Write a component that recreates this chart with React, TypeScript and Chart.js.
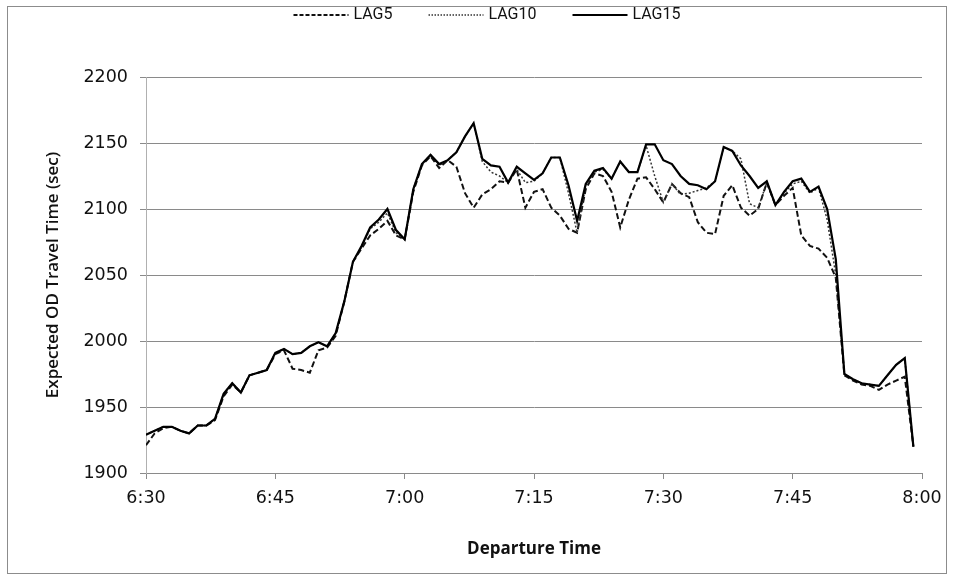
import React, { useEffect, useRef } from "react";
import { Chart, registerables } from "chart.js";

Chart.register(...registerables);

// one sample per minute, starting at 6:30
const startHour = 6;
const startMinute = 30;
const xTickStep = 15;
const xMax = 90;

const seriesNames = ["LAG5", "LAG10", "LAG15"];

const lag5 = [
  1921, 1930, 1934, 1935, 1932, 1930, 1936, 1936, 1940, 1958,
  1967, 1961, 1974, 1976, 1978, 1990, 1993, 1979, 1978, 1976,
  1993, 1995, 2004, 2030, 2060, 2070, 2080, 2085, 2091, 2080,
  2077, 2113, 2133, 2140, 2131, 2137, 2132, 2112, 2101, 2111,
  2115, 2121, 2120, 2130, 2101, 2113, 2115, 2101, 2095, 2085,
  2082, 2115, 2127, 2125, 2113, 2086, 2107, 2123, 2124, 2115,
  2105, 2119, 2112, 2109, 2090, 2082, 2081, 2110, 2118, 2101,
  2095, 2100, 2120, 2103, 2110, 2116, 2080, 2072, 2070, 2063,
  2048, 1974, 1970, 1967, 1966, 1963, 1967, 1970, 1973, 1920,
];

const lag10 = [
  1929, 1932, 1935, 1935, 1932, 1930, 1936, 1936, 1941, 1960,
  1968, 1961, 1974, 1976, 1978, 1991, 1994, 1990, 1991, 1996,
  1999, 1996, 2006, 2030, 2060, 2071, 2085, 2090, 2097, 2082,
  2077, 2115, 2134, 2141, 2133, 2137, 2143, 2155, 2165, 2136,
  2128, 2125, 2120, 2130, 2120, 2121, 2127, 2139, 2139, 2112,
  2082, 2118, 2128, 2130, 2123, 2136, 2128, 2128, 2148, 2125,
  2105, 2119, 2111, 2112, 2114, 2116, 2121, 2147, 2144, 2138,
  2104, 2101, 2120, 2103, 2112, 2119, 2121, 2112, 2116, 2092,
  2050, 1975, 1971, 1968, 1967, 1966, 1974, 1982, 1987, 1920,
];

const lag15 = [
  1929, 1932, 1935, 1935, 1932, 1930, 1936, 1936, 1941, 1960,
  1968, 1961, 1974, 1976, 1978, 1991, 1994, 1990, 1991, 1996,
  1999, 1996, 2006, 2030, 2060, 2072, 2086, 2092, 2100, 2084,
  2077, 2115, 2134, 2141, 2134, 2137, 2143, 2155, 2165, 2138,
  2133, 2132, 2120, 2132, 2127, 2122, 2127, 2139, 2139, 2118,
  2091, 2119, 2129, 2131, 2123, 2136, 2128, 2128, 2149, 2149,
  2137, 2134, 2125, 2119, 2118, 2115, 2121, 2147, 2144, 2133,
  2125, 2116, 2121, 2103, 2113, 2121, 2123, 2113, 2117, 2100,
  2062, 1975, 1971, 1968, 1967, 1966, 1974, 1982, 1987, 1920,
];

const yMin = 1900;
const yMax = 2200;
const yStep = 50;

const xTitle = "Departure Time";
const yTitle = "Expected OD Travel Time (sec)";

function fmtTime(m: number) {
  const total = startHour * 60 + startMinute + m;
  const h = Math.floor(total / 60);
  const mm = total % 60;
  return `${h}:${mm < 10 ? "0" : ""}${mm}`;
}

const toPoints = (arr: number[]) => arr.map((v, i) => ({ x: i, y: v }));

const legendFont = "16px Roboto, 'Noto Sans', sans-serif";

// Legend drawn on the canvas with the datasets' own dash styles
const lineLegend = {
  id: "lineLegend",
  afterDraw(chart: any, _args: any, opts: any) {
    const ctx = chart.ctx;
    const sampleLen = opts.sampleLen;
    const gap = opts.gap;
    const spacing = opts.spacing;
    ctx.save();
    ctx.font = legendFont;
    const items = chart.data.datasets.map((ds: any) => ({
      ds,
      w: ctx.measureText(ds.label).width,
    }));
    const total =
      items.reduce((s: number, it: any) => s + sampleLen + gap + it.w, 0) +
      spacing * (items.length - 1);
    let x = opts.centerX - total / 2;
    const y = opts.y;
    items.forEach((it: any) => {
      ctx.beginPath();
      ctx.setLineDash(it.ds.legendDash || []);
      ctx.lineWidth = it.ds.borderWidth;
      ctx.strokeStyle = it.ds.borderColor;
      ctx.moveTo(x, y);
      ctx.lineTo(x + sampleLen, y);
      ctx.stroke();
      ctx.setLineDash([]);
      x += sampleLen + gap;
      ctx.fillStyle = "#111";
      ctx.textBaseline = "middle";
      ctx.textAlign = "left";
      ctx.fillText(it.ds.label, x, y);
      x += it.w + spacing;
    });
    ctx.restore();
  },
};

export default function App() {
  const ref = useRef<HTMLCanvasElement | null>(null);

  useEffect(() => {
    if (!ref.current) return;
    const tickFont = { family: "'DejaVu Sans', Verdana, sans-serif", size: 17.5 };
    const chart = new Chart(ref.current, {
      type: "line",
      plugins: [lineLegend],
      data: {
        datasets: [
          {
            label: seriesNames[0],
            data: toPoints(lag5),
            borderColor: "#111",
            backgroundColor: "#111",
            borderWidth: 2,
            borderDash: [6, 3],
            legendDash: [4, 2],
            pointRadius: 0,
            tension: 0,
            order: 3,
          } as any,
          {
            label: seriesNames[1],
            data: toPoints(lag10),
            borderColor: "#333",
            backgroundColor: "#333",
            borderWidth: 1.5,
            borderDash: [2, 2],
            legendDash: [1.5, 1.5],
            pointRadius: 0,
            tension: 0,
            order: 2,
          } as any,
          {
            label: seriesNames[2],
            data: toPoints(lag15),
            borderColor: "#000",
            backgroundColor: "#000",
            borderWidth: 2.2,
            pointRadius: 0,
            tension: 0,
            order: 1,
          } as any,
        ],
      },
      options: {
        responsive: false,
        animation: false,
        layout: { padding: { left: 0, right: 31, top: 77, bottom: 0 } },
        plugins: {
          tooltip: { enabled: false },
          legend: { display: false },
          lineLegend: { centerX: 487, y: 15, sampleLen: 55, gap: 5, spacing: 36 },
        } as any,
        scales: {
          x: {
            type: "linear",
            min: 0,
            max: xMax,
            afterFit: (s: any) => {
              s.height = 107;
            },
            ticks: {
              stepSize: xTickStep,
              callback: (v: any) => fmtTime(Number(v)),
              color: "#111",
              font: tickFont,
              padding: 9,
              maxRotation: 0,
            },
            grid: {
              drawOnChartArea: false,
              drawTicks: true,
              tickLength: 6,
              color: "#8a8a8a",
            },
            border: { color: "#8a8a8a", width: 1 },
            title: {
              display: true,
              text: xTitle,
              color: "#111",
              font: { family: "'Open Sans', sans-serif", size: 17, weight: "bold" },
              padding: { top: 0, bottom: 21 },
            },
          },
          y: {
            min: yMin,
            max: yMax,
            afterFit: (s: any) => {
              s.width = 146;
            },
            ticks: {
              stepSize: yStep,
              callback: (v: any) => String(v),
              color: "#111",
              font: tickFont,
              padding: 12,
            },
            grid: {
              color: "#8a8a8a",
              lineWidth: 1,
              tickLength: 6,
            },
            border: { color: "#b0b0b0", width: 1 },
            title: {
              display: true,
              text: yTitle,
              color: "#111",
              font: { family: "'Open Sans', sans-serif", size: 17, weight: "600" },
              padding: { top: 43, bottom: 0 },
            },
          },
        },
      },
    });
    return () => chart.destroy();
  }, []);

  return (
    <div style={{ position: "fixed", left: 0, top: 0, width: 953, height: 580, background: "#fff" }}>
      <div
        style={{
          position: "absolute",
          left: 7,
          top: 6,
          width: 940,
          height: 568,
          border: "1px solid #8c8c8c",
          boxSizing: "border-box",
        }}
      />
      <canvas ref={ref} width={953} height={580} style={{ position: "absolute", left: 0, top: 0 }} />
    </div>
  );
}
